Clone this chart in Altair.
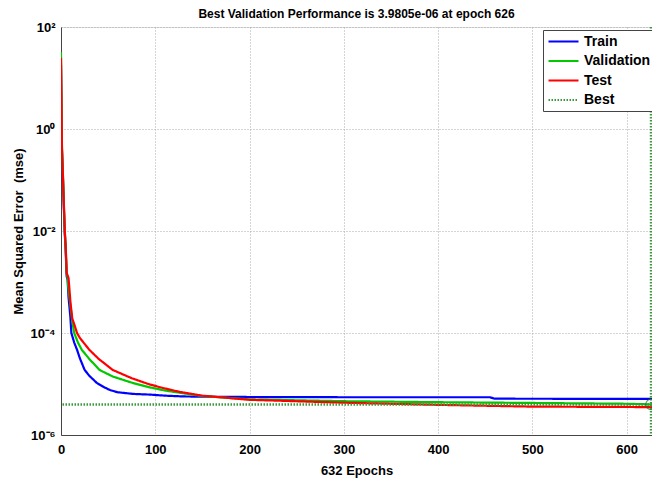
import altair as alt
import pandas as pd

# ---- data ----
series_names = ["Train", "Validation", "Test", "Best"]
series_colors = ["#0000ff", "#00c800", "#ff0000", "#3a9a3a"]

train_epochs = [0, 1, 2, 3, 4, 5, 6, 7, 8, 9, 10, 11, 14, 17, 20, 25, 30, 38, 45, 52, 60, 76, 94, 111, 130, 150, 200, 300, 455, 460, 632]
train_mse = [18, 0.4, 0.12, 0.03, 0.009, 0.004, 1.3e-3, 1.1e-3, 5e-4, 3.2e-4, 2.0e-4, 1.0e-4, 6.5e-5, 4.7e-5, 3.2e-5, 1.9e-5, 1.45e-5, 1.05e-5, 8.8e-6, 7.6e-6, 6.9e-6, 6.4e-6, 6.2e-6, 5.9e-6, 5.7e-6, 5.65e-6, 5.56e-6, 5.5e-6, 5.5e-6, 5.15e-6, 5.1e-6]

val_epochs = [0, 1, 2, 3, 4, 5, 6, 7, 8, 10, 12, 14, 18, 22, 30, 41, 55, 76, 94, 111, 150, 200, 300, 400, 500, 600, 626, 632]
val_mse = [32, 0.5, 0.14, 0.035, 0.01, 0.0045, 1.5e-3, 1.2e-3, 7e-4, 3.5e-4, 1.7e-4, 1.0e-4, 6.5e-5, 4.7e-5, 3.1e-5, 1.88e-5, 1.4e-5, 1.05e-5, 8.6e-6, 7.4e-6, 5.8e-6, 5.0e-6, 4.6e-6, 4.4e-6, 4.25e-6, 4.1e-6, 3.9805e-6, 3.98e-6]

test_epochs = [0, 1, 2, 3, 4, 5, 6, 8, 9, 10, 12, 14, 17, 20, 30, 40, 55, 75, 94, 110, 126, 150, 200, 300, 400, 500, 600, 632]
test_mse = [25, 0.4, 0.13, 0.035, 0.01, 0.005, 1.5e-3, 1.2e-3, 7e-4, 4e-4, 1.9e-4, 1.5e-4, 1.0e-4, 8e-5, 4.7e-5, 3.1e-5, 1.88e-5, 1.3e-5, 9.8e-6, 8.2e-6, 7.0e-6, 5.9e-6, 4.9e-6, 4.3e-6, 3.9e-6, 3.6e-6, 3.55e-6, 3.5e-6]

best_epoch = 626
best_perf = 3.9805e-6
total_epochs = 632

x_ticks = [0, 100, 200, 300, 400, 500, 600]
y_ticks = [1e-6, 1e-4, 1e-2, 1, 100]

rows = []
for name, ep, v in [("Train", train_epochs, train_mse),
                    ("Validation", val_epochs, val_mse),
                    ("Test", test_epochs, test_mse)]:
    for e, m in zip(ep, v):
        rows.append({"series": name, "epoch": e, "mse": m})
df = pd.DataFrame(rows)
best_df = pd.DataFrame({"series": ["Best"], "epoch": [best_epoch], "mse": [best_perf]})

FONT = "Liberation Sans"

x_scale = alt.Scale(domain=[0, 627], nice=False, zero=False)
y_scale = alt.Scale(type="log", domain=[1e-6, 1e2], nice=False)


def make_legend():
    return alt.Legend(orient="none", legendX=482, legendY=3,
                      symbolType="M-2.5,0L2.5,0", symbolSize=144,
                      symbolStrokeWidth=2.2, symbolOffset=9,
                      labelFont=FONT, labelFontSize=14,
                      labelFontWeight="bold", labelColor="black",
                      labelOffset=13, padding=4, rowPadding=4.5,
                      strokeColor="#444", fillColor="white",
                      cornerRadius=0)


color = alt.Color("series:N", title=None,
                  scale=alt.Scale(domain=series_names, range=series_colors),
                  legend=make_legend())
dash = alt.StrokeDash("series:N", title=None,
                      scale=alt.Scale(domain=series_names,
                                      range=[[1, 0], [1, 0], [1, 0], [1.5, 1.5]]),
                      legend=make_legend())

x_axis = alt.Axis(values=x_ticks, title=f"{total_epochs} Epochs", grid=True,
                  gridDash=[1, 2], gridColor="#aaa", ticks=False,
                  labelFont=FONT, labelFontSize=13, labelFontWeight="bold",
                  labelColor="black", labelPadding=8,
                  titleFont=FONT, titleFontSize=13, titleFontWeight="bold",
                  titleColor="black", titlePadding=8,
                  domainColor="#444", labelFlush=False)
y_axis = alt.Axis(values=y_ticks, title="Mean Squared Error\u00a0 (mse)", grid=True,
                  gridDash=[1, 2], gridColor="#aaa", ticks=False,
                  labelExpr="['10⁻⁶','','10⁻⁴','','10⁻²','','10⁰','','10²'][round(log(datum.value)/LN10)+6]",
                  labelFont=FONT, labelFontSize=13, labelFontWeight="bold",
                  labelColor="black", labelPadding=6,
                  titleFont=FONT, titleFontSize=13, titleFontWeight="bold",
                  titleColor="black", titlePadding=5,
                  domainColor="#444", labelFlush=False)

lines = alt.Chart(df).mark_line(strokeWidth=2.2, clip=True).encode(
    x=alt.X("epoch:Q", scale=x_scale, axis=x_axis),
    y=alt.Y("mse:Q", scale=y_scale, axis=y_axis),
    color=color, strokeDash=dash,
    detail="series:N",
)

best_h = alt.Chart(best_df).mark_rule(strokeWidth=2.5, clip=True).encode(
    y=alt.Y("mse:Q", scale=y_scale), color=color, strokeDash=dash)
best_v = alt.Chart(best_df).mark_rule(strokeWidth=2.5, clip=True).encode(
    x=alt.X("epoch:Q", scale=x_scale), color=color, strokeDash=dash)
best_pt = alt.Chart(best_df).mark_point(shape="circle", size=110, filled=False,
                                        color="#1f6b1f", strokeWidth=1.2, clip=False).encode(
    x=alt.X("epoch:Q", scale=x_scale), y=alt.Y("mse:Q", scale=y_scale))

title_text = f"Best Validation Performance is {best_perf:.4e} at epoch {best_epoch}"

chart = alt.layer(lines, best_h, best_v, best_pt).properties(
    width=591, height=408,
    autosize=alt.AutoSizeParams(type="none"),
    padding={"left": 53, "top": 19, "right": 0, "bottom": 45},
    title=alt.TitleParams(title_text, font=FONT, fontSize=12, fontWeight="bold",
                          color="black", offset=0, anchor="middle", frame="group"),
).configure_view(stroke=None).configure(background="white")

chart.save("out.html", embed_options={"renderer": "svg", "actions": False})
